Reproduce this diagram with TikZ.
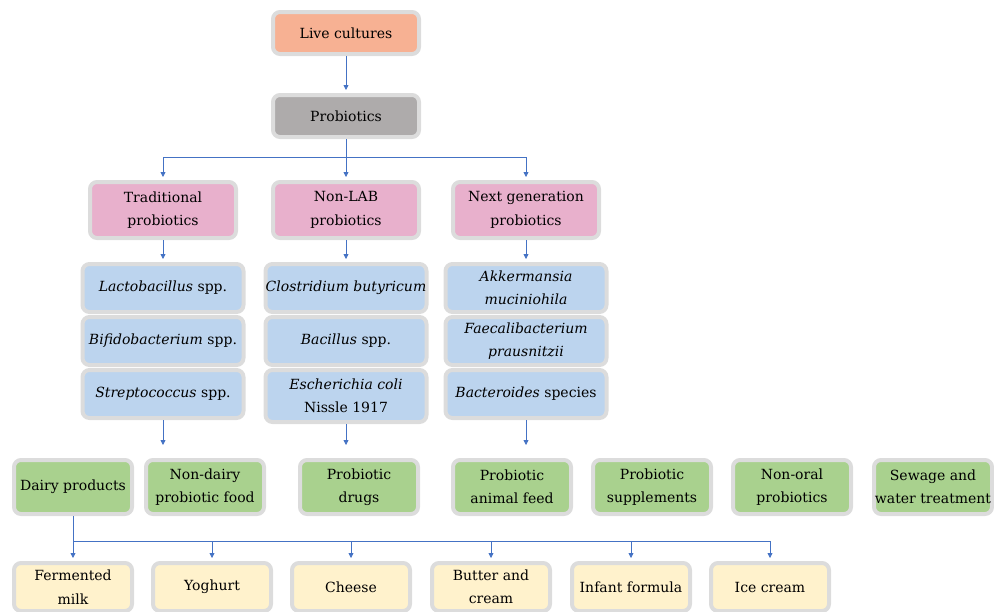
\documentclass[tikz,border=0pt]{standalone}
\usepackage{fontspec}
\setmainfont{DejaVu Serif}
\usepackage{tikz}
\usetikzlibrary{arrows.meta}
\definecolor{boxrim}{HTML}{DCDCDC}
\definecolor{linkblue}{HTML}{4472C4}
\definecolor{salmon}{HTML}{F7B193}
\definecolor{stone}{HTML}{AEABAB}
\definecolor{rose}{HTML}{E8B0CC}
\definecolor{sky}{HTML}{BCD4EE}
\definecolor{leaf}{HTML}{A9D18E}
\definecolor{cream}{HTML}{FFF2CC}

\begin{document}
\begin{tikzpicture}[x=1pt, y=-1pt,
        box/.style={draw=boxrim, line width=4pt, rounded corners=7pt, align=center,
            inner sep=0pt, font=\rmfamily\fontsize{14}{23.5}\selectfont},
        topbox/.style={box, minimum width=146pt, minimum height=42pt},
        groupbox/.style={box, fill=rose, minimum width=146pt, minimum height=56pt},
        genusbox/.style={box, fill=sky, minimum width=161pt, minimum height=48pt},
        usebox/.style={box, fill=leaf, minimum width=118pt, minimum height=54pt},
        dairybox/.style={box, fill=cream, minimum width=118pt, minimum height=48pt},
        wire/.style={draw=linkblue, line width=0.8pt},
        link/.style={wire, -{Triangle[length=5pt, width=5pt]}, shorten >=3pt}]
        \useasboundingbox (0,0) rectangle (994,611);

        % head
        \node[topbox, fill=salmon] (1) at (346,33) {Live cultures};
        \node[topbox, fill=stone] (2) at (346,116) {Probiotics};

        % kinds of probiotics
        \node[groupbox] (3) at (163,210) {Traditional\\probiotics};
        \node[groupbox] (4) at (346,210) {Non-LAB\\probiotics};
        \node[groupbox] (5) at (526,210) {Next generation\\probiotics};

        % strains
        \node[genusbox] (6) at (163,288) {\textit{Lactobacillus} spp.};
        \node[genusbox] (7) at (163,341) {\textit{Bifidobacterium} spp.};
        \node[genusbox] (8) at (163,394) {\textit{Streptococcus} spp.};
        \node[genusbox] (9) at (346,288) {\textit{Clostridium butyricum}};
        \node[genusbox] (10) at (346,341) {\textit{Bacillus} spp.};
        \node[genusbox, minimum height=52pt] (11) at (346,396) {\textit{Escherichia coli}\\Nissle 1917};
        \node[genusbox] (12) at (526,288) {\textit{Akkermansia}\\\textit{muciniohila}};
        \node[genusbox] (13) at (526,341) {\textit{Faecalibacterium}\\\textit{prausnitzii}};
        \node[genusbox] (14) at (526,394) {\textit{Bacteroides} species};

        % uses
        \node[usebox] (15) at (73,487) {Dairy products};
        \node[usebox] (16) at (205,487) {Non-dairy\\probiotic food};
        \node[usebox] (17) at (359,487) {Probiotic\\drugs};
        \node[usebox] (18) at (512,487) {Probiotic\\animal feed};
        \node[usebox] (19) at (652,487) {Probiotic\\supplements};
        \node[usebox] (20) at (792,487) {Non-oral\\probiotics};
        \node[usebox] (21) at (933,487) {Sewage and\\water treatment};

        % dairy products
        \node[dairybox] (22) at (73,587) {Fermented\\milk};
        \node[dairybox] (23) at (212,587) {Yoghurt};
        \node[dairybox] (24) at (351,587) {Cheese};
        \node[dairybox] (25) at (491,587) {Butter and\\cream};
        \node[dairybox] (26) at (631,587) {Infant formula};
        \node[dairybox] (27) at (770,587) {Ice cream};

        \coordinate (b) at (346,157);
        \coordinate (c1) at (163,445);
        \coordinate (c2) at (346,445);
        \coordinate (c3) at (526,445);
        \coordinate (d) at (73,541);

        \draw[link] (1) -- (2);
        \draw[wire] (2) -- (b);
        \draw[link] (b) -| (3);
        \draw[link] (b) -- (4);
        \draw[link] (b) -| (5);
        \draw[link] (3) -- (6);
        \draw[link] (4) -- (9);
        \draw[link] (5) -- (12);
        \draw[link, shorten >=0pt] (8) -- (c1);
        \draw[link, shorten >=0pt] (11) -- (c2);
        \draw[link, shorten >=0pt] (14) -- (c3);
        \draw[wire] (15) -- (d);
        \draw[link] (d) -- (22);
        \draw[link] (23 |- d) -- (23);
        \draw[link] (24 |- d) -- (24);
        \draw[link] (25 |- d) -- (25);
        \draw[link] (26 |- d) -- (26);
        \draw[link] (d) -| (27);
    \end{tikzpicture}
\end{document}
